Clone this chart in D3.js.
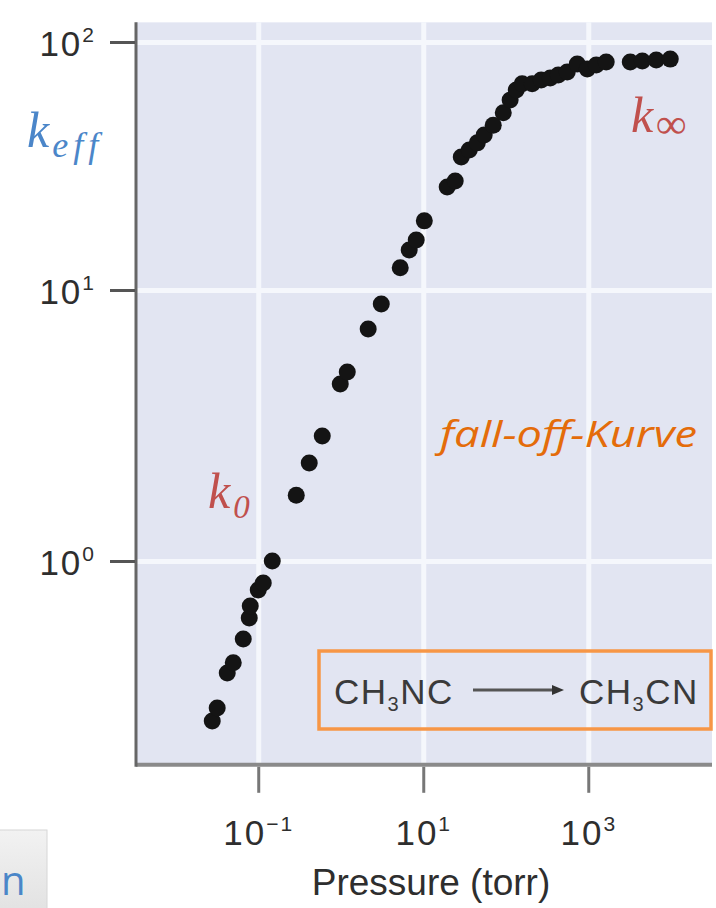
<!DOCTYPE html>
<html>
<head>
<meta charset="utf-8">
<script src="https://cdn.jsdelivr.net/npm/d3@7"></script>
<style>
  body { margin: 0; background: #fff; }
  svg { display: block; }
</style>
</head>
<body>
<div id="chart"></div>
<script>
// Values: pressure in torr, effective rate constant
var pressure = [0.0277, 0.0318, 0.0421, 0.0498, 0.0658, 0.0778, 0.080, 0.100, 0.115, 0.148,
                0.289, 0.415, 0.597, 0.986, 1.20, 2.15, 3.10, 5.26, 6.76, 8.22,
                10.3, 19.5, 24.4, 28.9, 36.1, 45.2, 54.8, 70.5, 93.3, 113,
                134, 158, 209, 269, 346, 433, 556, 736, 973, 1250,
                1650, 3230, 4520, 6670, 9860];
var kEff = [0.257, 0.287, 0.386, 0.421, 0.515, 0.616, 0.682, 0.782, 0.830, 1.00,
            1.75, 2.30, 2.89, 4.50, 4.98, 7.18, 8.88, 12.3, 14.5, 15.9,
            19.0, 26.0, 27.5, 34.4, 36.7, 39.2, 42.2, 46.2, 51.8, 58.4,
            64.0, 67.8, 67.8, 70.3, 71.6, 73.6, 75.7, 81.5, 77.8, 80.7,
            83.0, 83.0, 83.8, 84.6, 85.3];

var xTicks = [0.1, 10, 1000];
var xTickExp = ["\u22121", "1", "3"];
var yTicks = [1, 10, 100];
var yTickExp = ["0", "1", "2"];

var xDomain = [0.0033, 31600];
var yDomain = [0.177, 120];

var W = 716, H = 908;
var svg = d3.select("#chart").append("svg")
    .attr("width", W)
    .attr("height", H);

// scales: the scanned y axis has unequal decades, so the log scale is piecewise
var x = d3.scaleLog().domain(xDomain).range([136, 712]);
var y = d3.scaleLog().domain(yTicks).range([561, 290, 42]);

var px0 = x(xDomain[0]), px1 = x(xDomain[1]);
var py0 = y(yDomain[1]), py1 = y(yDomain[0]);

// plot background
svg.append("rect")
    .attr("x", px0).attr("y", py0)
    .attr("width", px1 - px0).attr("height", py1 - py0)
    .attr("fill", "#e2e5f2");

// grid
var gy = svg.append("g")
    .attr("transform", "translate(" + px0 + ",0)")
    .call(d3.axisLeft(y).tickValues(yTicks).tickSize(-(px1 - px0)).tickFormat(""));
var gx = svg.append("g")
    .attr("transform", "translate(0," + py1 + ")")
    .call(d3.axisBottom(x).tickValues(xTicks).tickSize(-(py1 - py0)).tickFormat(""));
[gx, gy].forEach(function(g) {
  g.select(".domain").remove();
  g.selectAll(".tick line").attr("stroke", "#f5f7fc").attr("stroke-width", 5);
});

// points
svg.append("g")
  .selectAll("circle")
  .data(pressure)
  .enter()
  .append("circle")
    .attr("cx", function(d) { return x(d); })
    .attr("cy", function(d, i) { return y(kEff[i]); })
    .attr("r", 8.5)
    .attr("fill", "#141414");

// axis lines
svg.append("line")
    .attr("x1", px0).attr("x2", px1).attr("y1", py1).attr("y2", py1)
    .attr("stroke", "#8a8a8a").attr("stroke-width", 4);
svg.append("line")
    .attr("x1", px0).attr("x2", px0).attr("y1", py0).attr("y2", py1 + 2)
    .attr("stroke", "#666").attr("stroke-width", 3);

var labelFont = "'Liberation Sans', Arial, sans-serif";

// y axis ticks + labels
var ay = svg.append("g")
    .attr("transform", "translate(" + (px0 - 1) + ",0)")
    .call(d3.axisLeft(y).tickValues(yTicks).tickSize(25).tickFormat(""));
ay.select(".domain").remove();
ay.selectAll(".tick line").attr("stroke", "#555").attr("stroke-width", 3);
ay.selectAll(".tick").each(function(d, i) {
  var t = d3.select(this).append("text")
      .attr("x", -39).attr("y", 13)
      .attr("text-anchor", "end")
      .style("font-family", labelFont)
      .style("font-size", "35px")
      .style("letter-spacing", "2px")
      .attr("fill", "#2e2e2e");
  t.append("tspan").text("10");
  t.append("tspan").attr("dy", -14).style("font-size", "21px").text(yTickExp[i]);
});

// x axis ticks + labels
var ax = svg.append("g")
    .attr("transform", "translate(0," + (py1 + 2) + ")")
    .call(d3.axisBottom(x).tickValues(xTicks).tickSize(26).tickFormat(""));
ax.select(".domain").remove();
ax.selectAll(".tick line").attr("stroke", "#777").attr("stroke-width", 3);
ax.selectAll(".tick").each(function(d, i) {
  var t = d3.select(this).append("text")
      .attr("x", 0).attr("y", 78)
      .attr("text-anchor", "middle")
      .style("font-family", labelFont)
      .style("font-size", "35px")
      .style("letter-spacing", "2px")
      .attr("fill", "#2e2e2e");
  t.append("tspan").text("10");
  t.append("tspan").attr("dy", -14).style("font-size", "21px").text(xTickExp[i]);
});

svg.append("text")
    .attr("x", 431).attr("y", 895)
    .attr("text-anchor", "middle")
    .style("font-family", labelFont)
    .style("font-size", "37px")
    .attr("fill", "#2e2e2e")
    .text("Pressure (torr)");

// math style labels
var mathFont = "'Liberation Serif', 'DejaVu Serif', serif";
function kLabel(xp, yp, sub, color, subSize, subDy, subSpacing) {
  var t = svg.append("text")
      .attr("x", xp).attr("y", yp)
      .style("font-family", mathFont)
      .style("font-style", "italic")
      .style("font-size", "50px")
      .attr("fill", color);
  t.append("tspan").text("k");
  t.append("tspan")
      .attr("dx", 3)
      .attr("dy", subDy)
      .style("font-size", subSize + "px")
      .style("letter-spacing", subSpacing + "px")
      .text(sub);
}
kLabel(27, 147, "eff", "#4b86c9", 36, 10, 5);
kLabel(631, 132, "\u221e", "#c0504d", 42, 6, 0);
kLabel(208, 508, "0", "#c0504d", 33, 10, 0);

svg.append("text")
    .attr("x", 440).attr("y", 447)
    .style("font-family", "'Open Sans', 'Noto Sans', sans-serif")
    .style("font-style", "italic")
    .style("font-size", "37px")
    .attr("fill", "#e46c0a")
    .attr("textLength", 257)
    .attr("lengthAdjust", "spacingAndGlyphs")
    .text("fall-off-Kurve");

// reaction box
svg.append("rect")
    .attr("x", 319).attr("y", 651)
    .attr("width", 392).attr("height", 78)
    .attr("fill", "none")
    .attr("stroke", "#f79646")
    .attr("stroke-width", 3.5);

function formula(xp, parts) {
  var t = svg.append("text")
      .attr("x", xp).attr("y", 704)
      .style("font-family", labelFont)
      .style("font-size", "35px")
      .style("letter-spacing", "1.5px")
      .attr("fill", "#3a3a3a");
  t.append("tspan").text(parts[0]);
  t.append("tspan").attr("dy", 7).style("font-size", "20px").text(parts[1]);
  t.append("tspan").attr("dy", -7).text(parts[2]);
}
formula(334, ["CH", "3", "NC"]);
formula(579, ["CH", "3", "CN"]);

svg.append("line")
    .attr("x1", 473).attr("x2", 554).attr("y1", 690).attr("y2", 690)
    .attr("stroke", "#555").attr("stroke-width", 3);
svg.append("path")
    .attr("d", "M552,685 L564,690 L552,695 Z")
    .attr("fill", "#333");

// cropped button in the lower left corner
var grad = svg.append("defs").append("linearGradient")
    .attr("id", "btn").attr("x1", 0).attr("x2", 0).attr("y1", 0).attr("y2", 1);
grad.append("stop").attr("offset", 0).attr("stop-color", "#f2f2f2");
grad.append("stop").attr("offset", 1).attr("stop-color", "#e2e2e2");
svg.append("rect")
    .attr("x", -2).attr("y", 830)
    .attr("width", 49).attr("height", 82)
    .attr("fill", "url(#btn)")
    .attr("stroke", "#d6d6d6");
svg.append("text")
    .attr("x", 1).attr("y", 895)
    .style("font-family", "'Open Sans', sans-serif")
    .style("font-size", "40px")
    .attr("fill", "#4a86c8")
    .text("n");
</script>
</body>
</html>
